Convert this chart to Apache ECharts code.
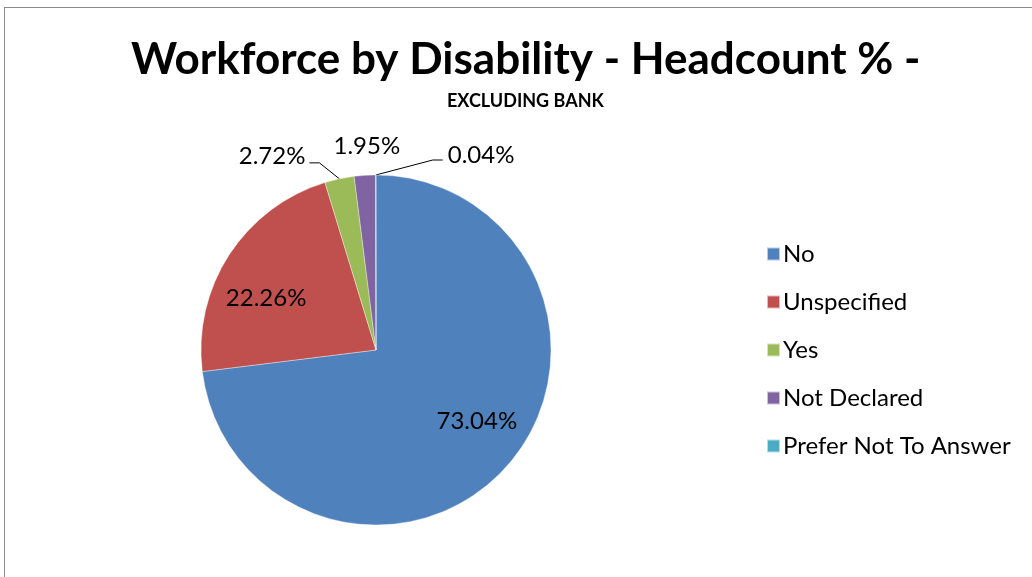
<!DOCTYPE html>
<html>
<head>
<meta charset="utf-8">
<style>
  html, body { margin: 0; padding: 0; background: #fff; overflow: hidden; }
  #frame {
    position: absolute; left: 4px; top: 7px; width: 1100px; height: 640px;
    border-top: 1px solid #8c8c8c; border-left: 1px solid #8c8c8c;
  }
  #chart { position: absolute; left: 0; top: 0; width: 1032px; height: 577px; }
</style>
<script src="https://cdn.jsdelivr.net/npm/echarts@6/dist/echarts.min.js"></script>
</head>
<body>
<div id="frame"></div>
<div id="chart"></div>
<script>
// Headcount share by disability status, in percent
const categories = ['No', 'Unspecified', 'Yes', 'Not Declared', 'Prefer Not To Answer'];
const percentages = [73.04, 22.26, 2.72, 1.95, 0.04];
const colors = ['#4F81BD', '#C0504D', '#9BBB59', '#8064A2', '#4BACC6'];

const FONT = 'Lato, "DejaVu Sans", sans-serif';

const chart = echarts.init(document.getElementById('chart'), null, { renderer: 'canvas' });

const data = categories.map((name, i) => ({
  name: name,
  value: percentages[i],
  itemStyle: { color: colors[i] },
  label: { position: i < 2 ? 'inside' : 'outside' },
  labelLine: { show: i !== 3 }
}));

chart.setOption({
  animation: false,
  title: [{
    text: 'Workforce by Disability - Headcount % -',
    left: 131,
    top: 38,
    padding: 0,
    textStyle: { fontFamily: FONT, fontWeight: 'bold', fontSize: 44, color: '#000' }
  }, {
    text: 'EXCLUDING BANK',
    left: 447,
    top: 92,
    padding: 0,
    textStyle: { fontFamily: FONT, fontWeight: 'bold', fontSize: 18, color: '#000' }
  }],
  legend: {
    orient: 'vertical',
    left: 761,
    top: 237,
    icon: 'rect',
    itemWidth: 13,
    itemHeight: 13,
    itemGap: 24,
    data: categories,
    textStyle: { fontFamily: FONT, fontSize: 24, color: '#000', lineHeight: 24, padding: [0, 0, 0, -2] }
  },
  series: [{
    type: 'pie',
    center: [376, 350],
    radius: 175,
    startAngle: 90,
    clockwise: true,
    avoidLabelOverlap: false,
    itemStyle: { borderColor: 'rgba(255,255,255,0.6)', borderWidth: 0.6 },
    label: {
      show: true,
      formatter: p => p.value.toFixed(2) + '%',
      fontFamily: FONT,
      fontSize: 24,
      color: '#000'
    },
    labelLine: { lineStyle: { color: '#000', width: 1 }, length: 15, length2: 10 },
    labelLayout: function (p) {
      const i = p.dataIndex;
      const pts = p.labelLinePoints;
      if (i === 0) return { dx: 33, dy: 11 };
      if (i === 1) return { dx: -34, dy: -2 };
      if (!pts) return {};
      const a = pts[0];
      if (i === 2) {
        return {
          x: a[0] - 34, y: a[1] - 23, align: 'right', verticalAlign: 'middle',
          labelLinePoints: [a, [a[0] - 20, a[1] - 16], [a[0] - 30, a[1] - 16]]
        };
      }
      if (i === 3) {
        return { x: a[0] + 2, y: a[1] - 29, align: 'center', verticalAlign: 'middle' };
      }
      return {
        x: a[0] + 72, y: a[1] - 20, align: 'left', verticalAlign: 'middle',
        labelLinePoints: [a, [a[0] + 57, a[1] - 15], [a[0] + 67, a[1] - 15]]
      };
    },
    data: data
  }]
});
</script>
</body>
</html>
